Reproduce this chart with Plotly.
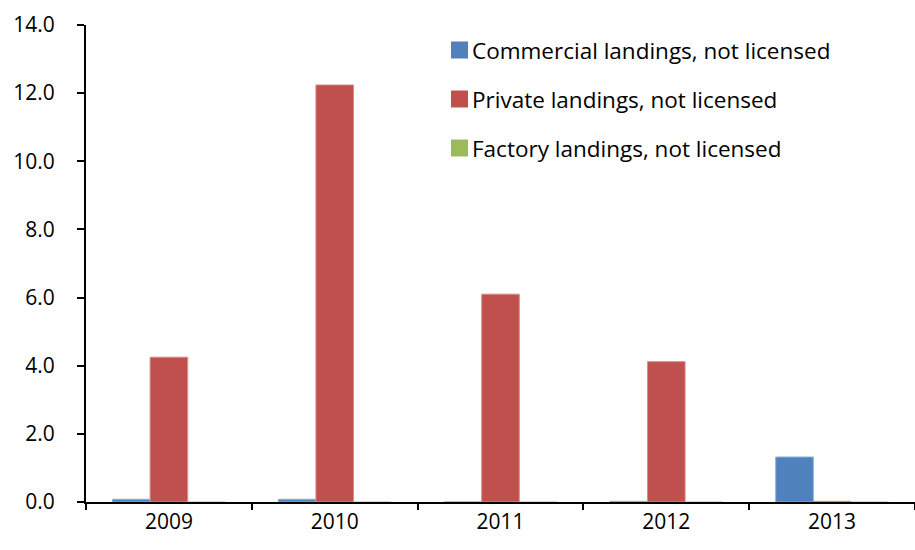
import plotly.graph_objects as go

years = ["2009", "2010", "2011", "2012", "2013"]
commercial = [0.08, 0.08, 0.0, 0.02, 1.32]
private = [4.25, 12.24, 6.1, 4.12, 0.02]
factory = [0.0, 0.0, 0.0, 0.0, 0.0]

series_names = [
    "Commercial landings, not licensed",
    "Private landings, not licensed",
    "Factory landings, not licensed",
]
colors = ["#4F81BD", "#C0504D", "#9BBB59"]
edges = ["#8EAED8", "#DA8C8A", "#C3D69B"]

FONT = "Open Sans"

fig = go.Figure()
for name, vals, col, edge in zip(series_names, [commercial, private, factory], colors, edges):
    fig.add_trace(go.Bar(
        x=years, y=vals, name=name,
        marker=dict(color=col, line=dict(color=edge, width=1)),
        showlegend=False,
    ))

# legend drawn as swatches plus labels
leg_rows = [50, 99, 148]
for name, col, yy in zip(series_names, colors, leg_rows):
    fig.add_shape(type="rect", xref="paper", yref="paper",
                  x0=(451 - 86) / 829, x1=(468 - 86) / 829,
                  y0=(502 - (yy + 8.5)) / 477, y1=(502 - (yy - 8.5)) / 477,
                  fillcolor=col, line=dict(width=0))
    fig.add_annotation(xref="paper", yref="paper",
                       x=(470 - 86) / 829, y=(502 - yy) / 477,
                       text=name, showarrow=False, xanchor="left", yanchor="middle",
                       font=dict(family=FONT, size=22.5, color="#000000"))

fig.update_layout(
    width=915, height=550,
    margin=dict(l=86, r=0, t=25, b=48),
    paper_bgcolor="white", plot_bgcolor="white",
    barmode="group", bargap=0.32, bargroupgap=0.0,
    font=dict(family=FONT, size=21, color="#000000"),
    showlegend=False,
)
fig.update_xaxes(
    showline=True, linecolor="#000000", linewidth=2,
    ticks="outside", ticklen=6, tickcolor="#000000", tickwidth=2,
    tickson="boundaries", showgrid=False,
    tickfont=dict(family=FONT, size=21),
)
fig.update_yaxes(
    range=[0, 14], dtick=2, tickformat=".1f",
    showline=True, linecolor="#000000", linewidth=2,
    ticks="outside", ticklen=7, tickcolor="#000000", tickwidth=2,
    showgrid=False, zeroline=False,
    ticklabelstandoff=18,
    tickfont=dict(family=FONT, size=21),
)

fig.write_html("out.html")
